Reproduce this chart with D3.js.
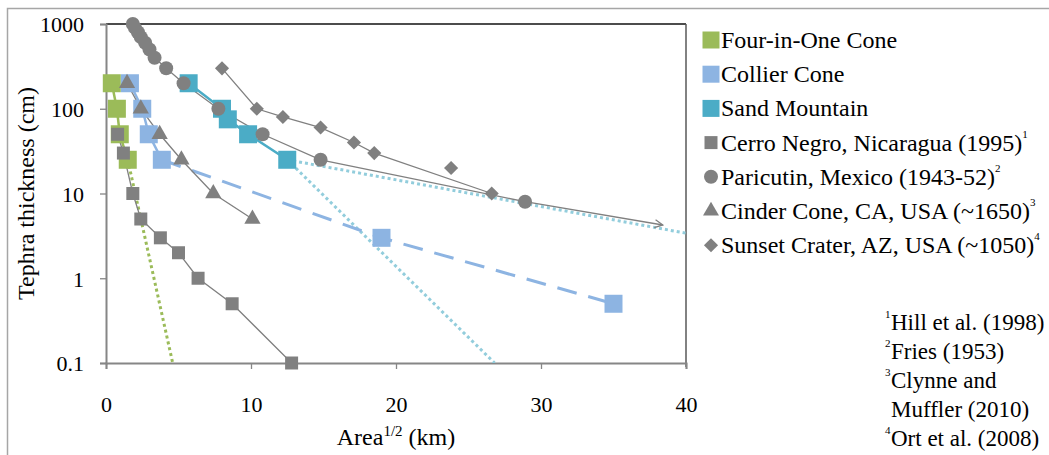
<!DOCTYPE html>
<html>
  <head>
    <meta charset="utf-8" />
    <style>
      body { margin: 0; background: #fff; }
      svg text { font-family: 'Liberation Serif', 'DejaVu Serif', serif; fill: #000; }
    </style>
  </head>
  <body>

<svg id="graph"></svg>

<script src="https://d3js.org/d3.v7.min.js"></script>
<script>
const WIDTH = 1049
const HEIGHT = 455

// plot area
const LEFT = 106
const RIGHT = 686
const TOP = 24
const BOTTOM = 363

const FONT = "'Liberation Serif', 'DejaVu Serif', serif"

// data (x = Area^1/2 in km, y = thickness in cm)
const fourX = [0.4, 0.75, 0.95, 1.5]
const fourY = [200, 100, 50, 25]
const fourFitX = [1.5, 4.6]
const fourFitY = [25, 0.1]

const collierX = [1.65, 2.5, 2.95, 3.85, 19, 35]
const collierY = [200, 100, 50, 25, 3, 0.5]

const sandX = [5.7, 8.0, 8.4, 9.8, 12.5]
const sandY = [200, 100, 75, 50, 25]
const sandFitAX = [12.5, 40]
const sandFitAY = [25, 3.4]
const sandFitBX = [12.5, 26.8]
const sandFitBY = [25, 0.1]

const cerroX = [0.8, 1.2, 1.85, 2.4, 3.75, 5.0, 6.35, 8.7, 12.8]
const cerroY = [50, 30, 10, 5, 3, 2, 1, 0.5, 0.1]

const paricutinX = [1.85, 2.0, 2.2, 2.4, 2.7, 3.0, 3.35, 4.15, 5.35, 7.75, 10.8, 14.8, 28.9]
const paricutinY = [1000, 900, 800, 700, 600, 500, 400, 300, 200, 100, 50, 25, 8]
const paricutinArrowX = [28.9, 38.4]
const paricutinArrowY = [8, 4.25]

const cinderX = [1.45, 2.4, 3.7, 5.2, 7.4, 10.1]
const cinderY = [200, 100, 50, 25, 10, 5]

const sunsetX = [8.0, 10.4, 12.2, 14.8, 17.1, 18.5, 23.8, 26.6]
const sunsetY = [300, 100, 80, 60, 40, 30, 20, 10]
// the 20 cm point is plotted but not joined by the line
const sunsetOnLine = [1, 1, 1, 1, 1, 1, 0, 1]

const xTicks = [0, 10, 20, 30, 40]
const yTicks = [0.1, 1, 10, 100, 1000]

const legendNames = ['Four-in-One Cone', 'Collier Cone', 'Sand Mountain',
  'Cerro Negro, Nicaragua (1995)', 'Paricutin, Mexico (1943-52)',
  'Cinder Cone, CA, USA (~1650)', 'Sunset Crater, AZ, USA (~1050)']
const legendSup = ['', '', '', '1', '2', '3', '4']
const footnotes = [
  { sup: '1', text: 'Hill et al. (1998)' },
  { sup: '2', text: 'Fries (1953)' },
  { sup: '3', text: 'Clynne and' },
  { sup: '', text: 'Muffler (2010)' },
  { sup: '4', text: 'Ort et al. (2008)' },
]

const GREEN = '#9bbb59'
const LIGHTBLUE = '#8db4e2'
const TEAL = '#4bacc6'
const PALETEAL = '#92cddc'
const GRAY = '#808080'

const zip = (xs, ys) => xs.map((x, i) => ({ x, y: ys[i] }))

const svg = d3.select('#graph')
  .attr('width', WIDTH)
  .attr('height', HEIGHT)
  .style('font-family', FONT)

// outer chart frame (only top and left edges visible)
svg.append('path')
  .attr('d', `M7.5,${HEIGHT} V8.5 H${WIDTH}`)
  .attr('fill', 'none')
  .attr('stroke', '#a6a6a6')
  .attr('stroke-width', 1.5)

const xScale = d3.scaleLinear().domain([0, 40]).range([LEFT, RIGHT])
const yScale = d3.scaleLog().domain([0.1, 1000]).range([BOTTOM, TOP])

svg.append('defs').append('clipPath').attr('id', 'clip')
  .append('rect')
  .attr('x', LEFT).attr('y', TOP)
  .attr('width', RIGHT - LEFT).attr('height', BOTTOM - TOP)

// plot border top / right
svg.append('line').attr('x1', LEFT).attr('x2', RIGHT).attr('y1', TOP).attr('y2', TOP)
  .attr('stroke', '#111').attr('stroke-width', 1.3)
svg.append('line').attr('x1', RIGHT).attr('x2', RIGHT).attr('y1', TOP).attr('y2', BOTTOM + 4)
  .attr('stroke', '#595959').attr('stroke-width', 1.5)

// axes
const axisX = d3.axisBottom(xScale).tickValues(xTicks).tickSize(6).tickPadding(27)
const axisY = d3.axisLeft(yScale).tickValues(yTicks).tickSize(6).tickPadding(16)
  .tickFormat(d => d3.format('~g')(d))

const gx = svg.append('g').attr('transform', `translate(0,${BOTTOM})`).call(axisX)
const gy = svg.append('g').attr('transform', `translate(${LEFT},0)`).call(axisY)
;[gx, gy].forEach(g => {
  g.attr('font-family', FONT).attr('font-size', 22)
  g.select('.domain').attr('stroke', '#868686').attr('stroke-width', 2)
  g.selectAll('.tick line').attr('stroke', '#868686').attr('stroke-width', 1.3)
  g.selectAll('.tick text').attr('fill', '#000')
})
gy.selectAll('.tick text').attr('dy', '0.36em')

// axis titles
svg.append('text')
  .attr('transform', `translate(34,${(TOP + BOTTOM) / 2}) rotate(-90)`)
  .attr('text-anchor', 'middle')
  .attr('font-size', 24)
  .text('Tephra thickness (cm)')

const xTitle = svg.append('text')
  .attr('x', (LEFT + RIGHT) / 2)
  .attr('y', 445)
  .attr('text-anchor', 'middle')
  .attr('font-size', 24)
xTitle.append('tspan').text('Area')
xTitle.append('tspan').attr('font-size', 15).attr('dy', -9).text('1/2')
xTitle.append('tspan').attr('dy', 9).text(' (km)')

const plot = svg.append('g').attr('clip-path', 'url(#clip)')
const marks = svg.append('g')

const line = d3.line().x(d => xScale(d.x)).y(d => yScale(d.y))

function drawLine(data, color, width, dash) {
  plot.append('path')
    .datum(data)
    .attr('d', line)
    .attr('fill', 'none')
    .attr('stroke', color)
    .attr('stroke-width', width)
    .attr('stroke-dasharray', dash || null)
}

function drawMarkers(data, type, size, color, rotate) {
  const sym = d3.symbol().type(type).size(size)
  marks.append('g').selectAll('path')
    .data(data)
    .join('path')
    .attr('d', sym)
    .attr('transform', d => `translate(${xScale(d.x)},${yScale(d.y)})` + (rotate ? ` rotate(${rotate})` : ''))
    .attr('fill', color)
}

// coloured series
const four = zip(fourX, fourY)
const collier = zip(collierX, collierY)
const sand = zip(sandX, sandY)

drawLine(zip(fourFitX, fourFitY), GREEN, 3, '3,3')
drawLine(zip(sandFitAX, sandFitAY), PALETEAL, 3, '3,3')
drawLine(zip(sandFitBX, sandFitBY), PALETEAL, 3, '3,3')
drawLine(collier.slice(3), LIGHTBLUE, 3, '20,12')
drawLine(four, GREEN, 2.5)
drawLine(collier.slice(0, 4), LIGHTBLUE, 2.5)
drawLine(sand, TEAL, 2.5)

drawMarkers(four, d3.symbolSquare, 18 * 18, GREEN)
drawMarkers(collier, d3.symbolSquare, 18 * 18, LIGHTBLUE)
drawMarkers(sand, d3.symbolSquare, 18 * 18, TEAL)

// grey series
const cerro = zip(cerroX, cerroY)
const paricutin = zip(paricutinX, paricutinY)
const cinder = zip(cinderX, cinderY)
const sunset = zip(sunsetX, sunsetY)

svg.select('defs').append('marker')
  .attr('id', 'arrow')
  .attr('viewBox', '0 0 10 10')
  .attr('refX', 9).attr('refY', 5)
  .attr('markerWidth', 10).attr('markerHeight', 10)
  .attr('markerUnits', 'userSpaceOnUse')
  .attr('orient', 'auto')
  .append('path')
  .attr('d', 'M1,1 L9,5 L1,9')
  .attr('fill', 'none')
  .attr('stroke', GRAY)
  .attr('stroke-width', 1.3)

drawLine(cerro, GRAY, 1.3)
drawLine(paricutin, GRAY, 1.3)
drawLine(cinder, GRAY, 1.3)
drawLine(sunset.filter((d, i) => sunsetOnLine[i]), GRAY, 1.3)
marks.append('path')
  .datum(zip(paricutinArrowX, paricutinArrowY))
  .attr('d', line)
  .attr('fill', 'none')
  .attr('stroke', GRAY)
  .attr('stroke-width', 1.3)
  .attr('marker-end', 'url(#arrow)')

drawMarkers(cerro, d3.symbolSquare, 13 * 13, GRAY)
drawMarkers(paricutin, d3.symbolCircle, Math.PI * 7 * 7, GRAY)
drawMarkers(cinder, d3.symbolTriangle, 115, GRAY)
drawMarkers(sunset, d3.symbolSquare, 10 * 10, GRAY, 45)

// legend
const legendTypes = [
  { type: d3.symbolSquare, size: 17 * 17, color: GREEN },
  { type: d3.symbolSquare, size: 17 * 17, color: LIGHTBLUE },
  { type: d3.symbolSquare, size: 17 * 17, color: TEAL },
  { type: d3.symbolSquare, size: 13 * 13, color: GRAY },
  { type: d3.symbolCircle, size: Math.PI * 49, color: GRAY },
  { type: d3.symbolTriangle, size: 110, color: GRAY },
  { type: d3.symbolSquare, size: 10 * 10, color: GRAY, rotate: 45 },
]
const legend = svg.append('g')
legendNames.forEach((name, i) => {
  const y = 40 + i * 34.2
  const t = legendTypes[i]
  legend.append('path')
    .attr('d', d3.symbol().type(t.type).size(t.size))
    .attr('transform', `translate(711,${y})` + (t.rotate ? ` rotate(${t.rotate})` : ''))
    .attr('fill', t.color)
  const txt = legend.append('text')
    .attr('x', 721)
    .attr('y', y + 8)
    .attr('font-size', 24)
  txt.append('tspan').text(name)
  if (legendSup[i]) {
    txt.append('tspan').attr('font-size', 11).attr('dy', -13).text(legendSup[i])
  }
})

// footnotes
footnotes.forEach((f, i) => {
  const y = 330 + i * 29
  if (f.sup) {
    svg.append('text').attr('x', 885).attr('y', y - 12).attr('font-size', 11).text(f.sup)
  }
  svg.append('text').attr('x', 891).attr('y', y).attr('font-size', 23).text(f.text)
})
</script>
  </body>
</html>
